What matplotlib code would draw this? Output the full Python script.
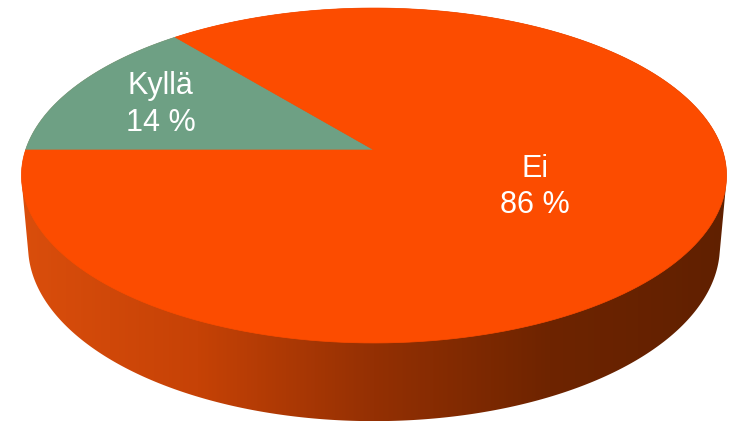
import numpy as np
import matplotlib.pyplot as plt
from matplotlib.patches import Polygon

labels = ['Kyllä', 'Ei']
values = [14, 86]
colors = ['#6ea084', '#fc4c00']
label_r = [0.7, 0.5]

# camera for the fake 3d look
elev = np.radians(28)
dist = 5.8
scale = 2021
thick = 0.232
cx, cy = 374, 150


def project(x, y, z):
    depth = y * np.cos(elev) - z * np.sin(elev) + dist
    up = y * np.sin(elev) + z * np.cos(elev)
    return cx + scale * x / depth, cy - scale * up / depth


def hull(pts):
    pts = sorted(map(tuple, pts))
    def half(p):
        out = []
        for q in p:
            while len(out) >= 2 and ((out[-1][0]-out[-2][0])*(q[1]-out[-2][1]) - (out[-1][1]-out[-2][1])*(q[0]-out[-2][0])) <= 0:
                out.pop()
            out.append(q)
        return out
    lo = half(pts)
    hi = half(pts[::-1])
    return np.array(lo[:-1] + hi[:-1])


fig = plt.figure(figsize=(7.33, 4.24), dpi=100)
ax = fig.add_axes([0, 0, 1, 1])
ax.set_xlim(0, 733)
ax.set_ylim(424, 0)
ax.axis('off')

# side wall
t = np.radians(np.linspace(0, 360, 721))
tx, ty = project(np.cos(t), np.sin(t), 0)
bx, by = project(np.cos(t), np.sin(t), -thick)
wall = hull(np.column_stack([np.r_[tx, bx], np.r_[ty, by]]))
wall_patch = Polygon(wall, closed=True, facecolor='none', edgecolor='none')
ax.add_patch(wall_patch)

grad = np.array([[218, 78, 12], [198, 66, 6], [148, 48, 3], [110, 36, 0], [96, 32, 0]]) / 255
gx = np.linspace(0, 1, 400)
stops = np.linspace(0, 1, len(grad))
img = np.stack([np.interp(gx, stops, grad[:, i]) for i in range(3)], axis=-1)[None, :, :]
im = ax.imshow(img, extent=[wall[:, 0].min(), wall[:, 0].max(), wall[:, 1].max(), wall[:, 1].min()],
               aspect='auto', interpolation='bilinear', zorder=1)
im.set_clip_path(wall_patch)

# top face slices
start = 180.0
total = sum(values)
for lab, val, col, r in zip(labels, values, colors, label_r):
    end = start - 360 * val / total
    a = np.radians(np.linspace(start, end, 200))
    px, py = project(np.cos(a), np.sin(a), 0)
    ox, oy = project(0, 0, 0)
    ax.add_patch(Polygon(np.column_stack([np.r_[ox, px], np.r_[oy, py]]), closed=True,
                         facecolor=col, edgecolor=col, lw=0.5, zorder=2))
    mid = np.radians((start + end) / 2)
    lx, ly = project(r * np.cos(mid), r * np.sin(mid), 0)
    ax.text(lx - 2, ly + 1, f'{lab}\n{val} %', color='white', fontsize=22, family='Liberation Sans',
            ha='center', va='center', linespacing=1.3, zorder=3)
    start = end

fig.savefig('out.png', dpi=100)
